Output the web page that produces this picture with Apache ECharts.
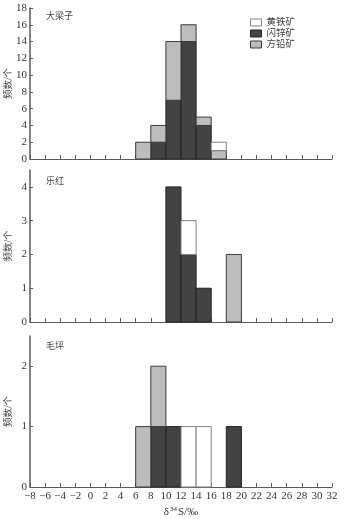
<!DOCTYPE html>
<html>
<head>
<meta charset="utf-8">
<script src="https://cdn.jsdelivr.net/npm/echarts@6/dist/echarts.min.js"></script>
<style>
html,body{margin:0;padding:0;background:#fff;}
#c{width:345px;height:519px;}
</style>
</head>
<body>
<div id="c"></div>
<script>
// Bin lower edges (δ34S, ‰), bin width 2
var binStarts = [6, 8, 10, 12, 14, 16, 18];
var binWidth = 2;
var minerals = ['黄铁矿', '闪锌矿', '方铅矿'];
var panelNames = ['大梁子', '乐红', '毛坪'];

// 大梁子
var dlz_sphalerite = [0, 2, 7, 14, 4, 0, 0];
var dlz_galena     = [2, 2, 7, 2, 1, 1, 0];
var dlz_pyrite     = [0, 0, 0, 0, 0, 1, 0];
// 乐红
var lh_sphalerite = [0, 0, 4, 2, 1, 0, 0];
var lh_galena     = [0, 0, 0, 0, 0, 0, 2];
var lh_pyrite     = [0, 0, 0, 1, 0, 0, 0];
// 毛坪
var mp_sphalerite = [0, 1, 1, 0, 0, 0, 1];
var mp_galena     = [1, 1, 0, 0, 0, 0, 0];
var mp_pyrite     = [0, 0, 0, 1, 1, 0, 0];

var yMax = [18, 4.5, 2.5];
var yTicks = [[0,2,4,6,8,10,12,14,16,18],[0,1,2,3,4],[0,1,2]];

var panels = [
  {sph: dlz_sphalerite, gal: dlz_galena, pyr: dlz_pyrite},
  {sph: lh_sphalerite, gal: lh_galena, pyr: lh_pyrite},
  {sph: mp_sphalerite, gal: mp_galena, pyr: mp_pyrite}
];

var FONT = "'Liberation Serif', 'Noto Sans CJK SC', serif";
var AXC = '#5a5a5a';

var grids = [
  {left: 30, right: 13, top: 8, height: 151, outerBoundsMode: 'none', containLabel: false},
  {left: 30, right: 13, top: 170, height: 152, outerBoundsMode: 'none', containLabel: false},
  {left: 30, right: 13, top: 336, height: 151, outerBoundsMode: 'none', containLabel: false}
];

var styles = {
  '闪锌矿': {color: '#434343', borderColor: '#222222', borderWidth: 1},
  '方铅矿': {color: '#bdbdbd', borderColor: '#3a3a3a', borderWidth: 1},
  '黄铁矿': {color: '#ffffff', borderColor: '#808080', borderWidth: 1}
};
var titleTops = [12, 177, 342];

function renderBin(params, api) {
  var p0 = api.coord([api.value(0), api.value(2)]);
  var p1 = api.coord([api.value(1), api.value(3)]);
  return {
    type: 'rect',
    shape: {x: p0[0], y: p1[1], width: p1[0] - p0[0], height: p0[1] - p1[1]},
    style: api.style()
  };
}

var xAxes = [], yAxes = [], series = [], titles = [];

for (var p = 0; p < 3; p++) {
  var last = p === 2;
  xAxes.push({
    type: 'value', gridIndex: p, min: -8, max: 32, interval: 2,
    axisLine: {show: true, onZero: false, lineStyle: {color: AXC, width: 1}},
    axisTick: {show: true, inside: true, length: 4, lineStyle: {color: AXC}},
    axisLabel: {show: last, fontFamily: FONT, fontSize: 11, color: '#333', margin: 4,
      formatter: function (v) { return String(v).replace('-', '−'); }},
    splitLine: {show: false},
    name: last ? '{a|δ}{s|34}{a|S/‰}' : '',
    nameLocation: 'middle', nameGap: 19, nameMoveOverlap: false,
    nameTextStyle: {rich: {
      a: {fontFamily: FONT, fontSize: 11, color: '#333'},
      s: {fontFamily: FONT, fontSize: 7, color: '#333', verticalAlign: 'top', padding: [0, 1, 5, 1]}
    }}
  });
  yAxes.push({
    type: 'value', gridIndex: p, min: 0, max: yMax[p],
    axisLine: {show: true, onZero: false, lineStyle: {color: AXC, width: 1.5}},
    axisTick: {show: true, inside: true, length: 3, lineStyle: {color: AXC}, customValues: yTicks[p]},
    axisLabel: {fontFamily: FONT, fontSize: 11, color: '#333', margin: 3, customValues: yTicks[p]},
    splitLine: {show: false},
    name: '频数/个', nameLocation: 'middle', nameRotate: 90, nameGap: 17, nameMoveOverlap: false,
    nameTextStyle: {fontFamily: FONT, fontSize: 9.5, color: '#444'}
  });
  titles.push({
    text: panelNames[p], left: 46, top: titleTops[p], padding: 0,
    textStyle: {fontFamily: FONT, fontSize: 9, fontWeight: 'normal', color: '#444'}
  });
  // stack order bottom->top: 闪锌矿, 方铅矿, 黄铁矿
  var d = panels[p];
  var base = binStarts.map(function () { return 0; });
  [['闪锌矿', d.sph], ['方铅矿', d.gal], ['黄铁矿', d.pyr]].forEach(function (s) {
    var rows = [];
    binStarts.forEach(function (b, i) {
      var v = s[1][i];
      if (v > 0) {
        rows.push([b, b + binWidth, base[i], base[i] + v]);
        base[i] += v;
      }
    });
    series.push({
      type: 'custom', name: s[0], xAxisIndex: p, yAxisIndex: p,
      renderItem: renderBin,
      encode: {x: [0, 1], y: [2, 3]},
      itemStyle: styles[s[0]],
      data: rows,
      animation: false
    });
  });
}

var chart = echarts.init(document.getElementById('c'), null, {renderer: 'canvas'});
chart.setOption({
  animation: false,
  backgroundColor: '#fff',
  title: titles,
  grid: grids,
  xAxis: xAxes,
  yAxis: yAxes,
  legend: {
    orient: 'vertical', left: 250, top: 17, padding: 0, itemWidth: 11, itemHeight: 7, itemGap: 0,
    icon: 'rect',
    data: minerals.map(function (m) { return {name: m, itemStyle: styles[m]}; }),
    textStyle: {fontFamily: FONT, fontSize: 9.5, color: '#444', lineHeight: 11},
    selectedMode: false
  },
  series: series
});
</script>
</body>
</html>
